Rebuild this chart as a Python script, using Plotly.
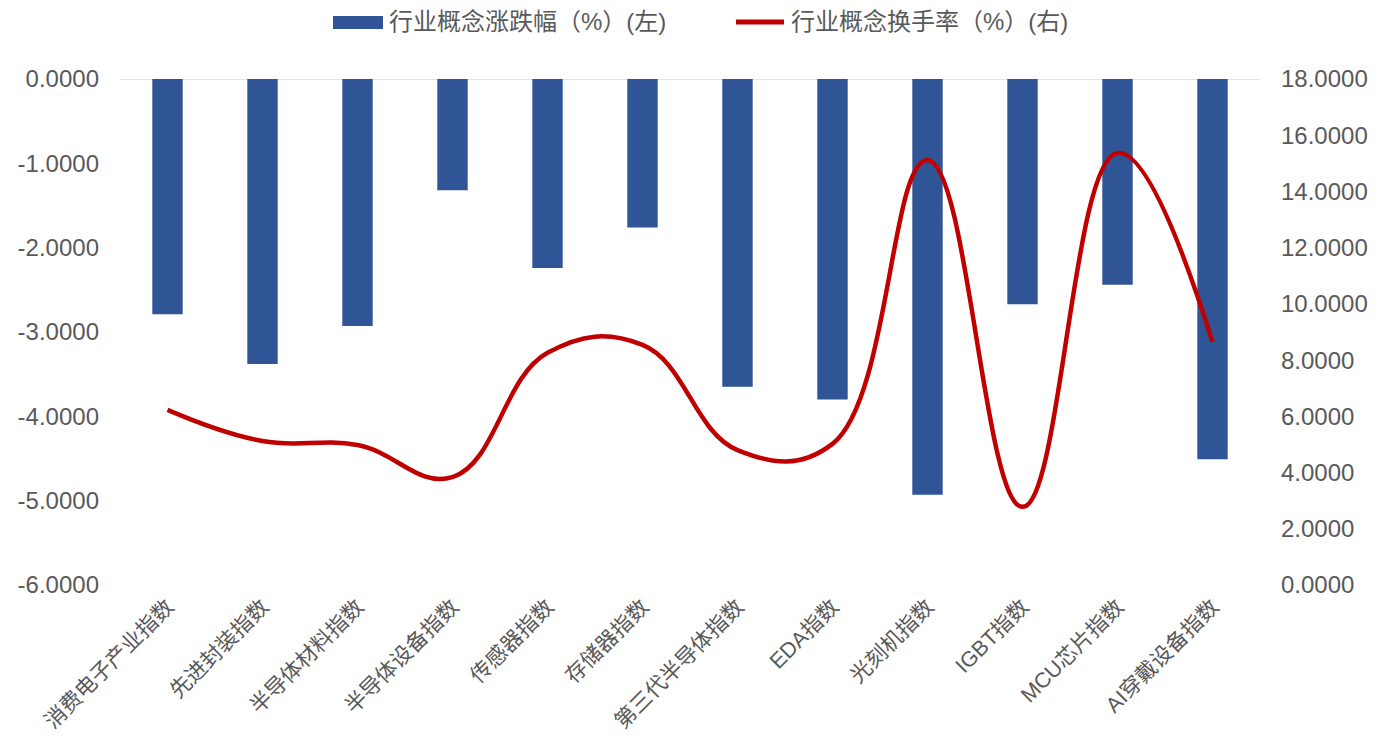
import plotly.graph_objects as go

categories = ["消费电子产业指数", "先进封装指数", "半导体材料指数", "半导体设备指数", "传感器指数",
              "存储器指数", "第三代半导体指数", "EDA指数", "光刻机指数", "IGBT指数",
              "MCU芯片指数", "AI穿戴设备指数"]
change_pct = [-2.79, -3.38, -2.93, -1.32, -2.24, -1.76, -3.65, -3.80, -4.93, -2.67, -2.44, -4.51]
turnover_pct = [6.23, 5.12, 4.98, 3.84, 8.26, 8.54, 4.80, 5.02, 15.12, 2.78, 15.37, 8.65]
left_ticks = [0, -1, -2, -3, -4, -5, -6]
right_ticks = [0, 2, 4, 6, 8, 10, 12, 14, 16, 18]
bar_name = "行业概念涨跌幅（%）(左)"
line_name = "行业概念换手率（%）(右)"

FONT = "Arial, 'Liberation Sans', 'Noto Sans CJK SC', sans-serif"
GREY = "#595959"
BLUE = "#2F5597"
RED = "#C00000"

W, H = 1384, 742
L, R, T, B = 120, 124, 79, 157
PW, PH = W - L - R, H - T - B


def px_x(x):
    return (x - L) / PW


def px_y(y):
    return (H - B - y) / PH


fig = go.Figure()
fig.add_trace(go.Bar(
    x=categories, y=change_pct, name=bar_name,
    marker=dict(color=BLUE, line=dict(width=0)), yaxis="y",
))
fig.add_trace(go.Scatter(
    x=categories, y=turnover_pct, name=line_name,
    mode="lines", line=dict(color=RED, width=4.5, shape="spline", smoothing=1.2),
    yaxis="y2",
))

fig.update_layout(
    width=W, height=H,
    margin=dict(l=L, r=R, t=T, b=B, autoexpand=False),
    paper_bgcolor="white", plot_bgcolor="white",
    font=dict(family=FONT, color=GREY, size=24),
    bargap=0.68,
    showlegend=False,
    xaxis=dict(showgrid=False, tickangle=-45, tickfont=dict(size=21.5, color=GREY),
               showline=False, ticks="", zeroline=False, automargin=False,
               ticklabelstandoff=4),
    yaxis=dict(range=[-6, 0], tickvals=left_ticks, ticktext=[f"{v:.4f}" for v in left_ticks],
               showgrid=False, zeroline=False, showline=False, ticks="",
               tickfont=dict(size=24, color=GREY), ticklabelstandoff=20, automargin=False),
    yaxis2=dict(range=[0, 18], tickvals=right_ticks, ticktext=[f"{v:.4f}" for v in right_ticks],
                overlaying="y", side="right", showgrid=False, zeroline=False, showline=False,
                ticks="", tickfont=dict(size=24, color=GREY), ticklabelstandoff=20,
                automargin=False),
    shapes=[
        dict(type="line", xref="paper", yref="y", x0=0, x1=1, y0=0, y1=0,
             line=dict(color="#D9D9D9", width=1.5), layer="below"),
        # legend keys
        dict(type="rect", xref="paper", yref="paper", x0=px_x(333), x1=px_x(383),
             y0=px_y(29), y1=px_y(16), fillcolor=BLUE, line=dict(width=0)),
        dict(type="line", xref="paper", yref="paper", x0=px_x(736), x1=px_x(784),
             y0=px_y(22), y1=px_y(22), line=dict(color=RED, width=5)),
    ],
    annotations=[
        dict(text=bar_name, xref="paper", yref="paper", x=px_x(387), y=px_y(22),
             xanchor="left", yanchor="middle", showarrow=False,
             font=dict(size=24, color=GREY, family=FONT)),
        dict(text=line_name, xref="paper", yref="paper", x=px_x(789), y=px_y(22),
             xanchor="left", yanchor="middle", showarrow=False,
             font=dict(size=24, color=GREY, family=FONT)),
    ],
)

fig.write_html("out.html")
